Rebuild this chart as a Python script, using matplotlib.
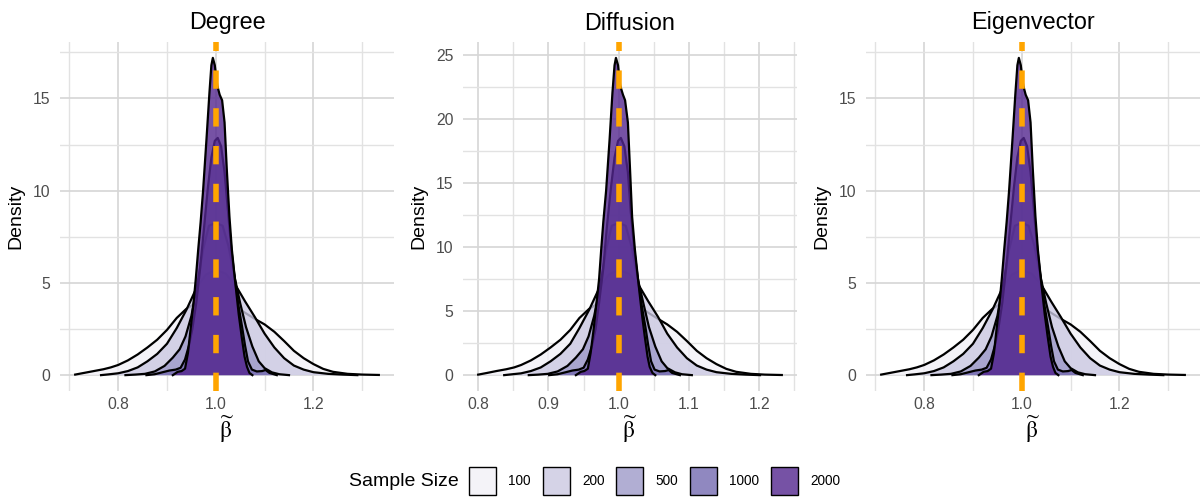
import matplotlib
matplotlib.use("Agg")
import matplotlib.pyplot as plt
from matplotlib.patches import Patch
from matplotlib.colors import to_rgba
from matplotlib.ticker import FixedLocator, FormatStrFormatter

plt.rcParams['font.family'] = ['Liberation Sans', 'DejaVu Sans']
plt.rcParams['mathtext.fontset'] = 'stix'

# ---------------- data ----------------
PANELS = ["Degree", "Diffusion", "Eigenvector"]
SAMPLE_SIZES = ["100", "200", "500", "1000", "2000"]
COLORS = ["#F2F0F7", "#CBC9E2", "#9E9AC8", "#756BB1", "#54278F"]
TRUE_VALUE = 1.0

# Degree
DEG_100_X = [0.712, 0.73, 0.75, 0.77, 0.785, 0.80, 0.82, 0.84, 0.86, 0.88, 0.90, 0.92, 0.94, 0.96, 0.98, 1.00,
             1.02, 1.04, 1.06, 1.08, 1.10, 1.12, 1.14, 1.16, 1.18, 1.20, 1.22, 1.24, 1.27, 1.30, 1.334]
DEG_100_Y = [0.03, 0.12, 0.22, 0.32, 0.42, 0.55, 0.80, 1.12, 1.50, 1.92, 2.45, 3.10, 3.60, 3.92, 4.08, 4.10,
             4.00, 3.75, 3.38, 3.05, 2.75, 2.35, 1.85, 1.32, 0.92, 0.60, 0.34, 0.18, 0.07, 0.03, 0.01]
DEG_200_X = [0.765, 0.78, 0.80, 0.82, 0.84, 0.86, 0.88, 0.90, 0.92, 0.94, 0.96, 0.98, 1.00, 1.02, 1.04, 1.06,
             1.08, 1.10, 1.12, 1.14, 1.16, 1.18, 1.20, 1.23, 1.26, 1.29]
DEG_200_Y = [0.0, 0.04, 0.10, 0.22, 0.42, 0.75, 1.15, 1.70, 2.55, 3.55, 4.70, 5.45, 5.70, 5.50, 4.90, 4.00,
             3.15, 2.25, 1.50, 0.92, 0.52, 0.30, 0.16, 0.07, 0.03, 0.0]
DEG_500_X = [0.815, 0.835, 0.855, 0.875, 0.895, 0.912, 0.926, 0.938, 0.950, 0.962, 0.974, 0.986, 1.000, 1.014,
             1.026, 1.038, 1.050, 1.062, 1.075, 1.088, 1.100, 1.115, 1.130, 1.150]
DEG_500_Y = [0.0, 0.03, 0.07, 0.20, 0.50, 0.95, 1.40, 2.10, 3.20, 4.90, 6.80, 8.10, 8.25, 8.10,
             7.00, 5.40, 3.90, 2.60, 1.55, 0.75, 0.38, 0.15, 0.05, 0.0]
DEG_1000_X = [0.858, 0.875, 0.89, 0.905, 0.918, 0.928, 0.937, 0.945, 0.952, 0.960, 0.968, 0.976, 0.984, 0.991,
              0.998, 1.004, 1.011, 1.018, 1.025, 1.032, 1.040, 1.047, 1.054, 1.060, 1.066, 1.074, 1.084, 1.095,
              1.102, 1.110, 1.125]
DEG_1000_Y = [0.0, 0.05, 0.15, 0.25, 0.30, 0.40, 0.85, 1.60, 2.50, 3.90, 5.80, 8.00, 10.20, 11.80,
              12.70, 12.86, 12.40, 11.00, 8.90, 6.80, 5.00, 3.70, 2.60, 1.60, 0.75, 0.30, 0.20, 0.22,
              0.28, 0.12, 0.0]
DEG_2000_X = [0.912, 0.922, 0.930, 0.937, 0.943, 0.948, 0.954, 0.959, 0.964, 0.969, 0.974, 0.981, 0.987, 0.991,
              0.994, 0.998, 1.003, 1.008, 1.013, 1.018, 1.0225, 1.028, 1.033, 1.040, 1.047, 1.053, 1.059, 1.064,
              1.069, 1.075]
DEG_2000_Y = [0.0, 0.18, 0.22, 0.35, 1.20, 2.40, 3.80, 5.20, 6.80, 8.30, 10.00, 12.80, 15.30, 16.80,
              17.20, 16.80, 15.70, 15.20, 14.90, 13.70, 11.20, 8.60, 6.80, 5.00, 3.30, 2.10, 1.00, 0.45,
              0.12, 0.0]

# Diffusion
DIF_100_X = [0.800, 0.8125, 0.826, 0.840, 0.851, 0.861, 0.875, 0.889, 0.903, 0.917, 0.931, 0.944, 0.958, 0.972,
             0.986, 1.000, 1.014, 1.028, 1.042, 1.056, 1.069, 1.083, 1.097, 1.111, 1.125, 1.139, 1.153, 1.167,
             1.188, 1.208, 1.232]
DIF_100_Y = [0.04, 0.17, 0.32, 0.46, 0.60, 0.79, 1.15, 1.61, 2.16, 2.76, 3.53, 4.46, 5.18, 5.64,
             5.88, 5.90, 5.76, 5.40, 4.87, 4.39, 3.96, 3.38, 2.66, 1.90, 1.32, 0.86, 0.49, 0.26,
             0.10, 0.04, 0.01]
DIF_200_X = [0.837, 0.847, 0.861, 0.875, 0.889, 0.903, 0.917, 0.931, 0.944, 0.958, 0.972, 0.986, 1.000, 1.014,
             1.028, 1.042, 1.056, 1.069, 1.083, 1.097, 1.111, 1.125, 1.139, 1.160, 1.181, 1.201]
DIF_200_Y = [0.0, 0.06, 0.14, 0.32, 0.60, 1.08, 1.66, 2.45, 3.67, 5.11, 6.77, 7.85, 8.21, 7.92,
             7.06, 5.76, 4.54, 3.24, 2.16, 1.32, 0.75, 0.43, 0.23, 0.10, 0.04, 0.0]
DIF_500_X = [0.872, 0.885, 0.899, 0.913, 0.927, 0.939, 0.949, 0.957, 0.965, 0.974, 0.982, 0.990, 1.000, 1.010,
             1.018, 1.026, 1.035, 1.043, 1.052, 1.061, 1.069, 1.080, 1.090, 1.104]
DIF_500_Y = [0.0, 0.04, 0.10, 0.29, 0.72, 1.37, 2.02, 3.02, 4.61, 7.06, 9.79, 11.66, 11.88, 11.66,
             10.08, 7.78, 5.62, 3.74, 2.23, 1.08, 0.55, 0.22, 0.07, 0.0]
DIF_1000_X = [0.901, 0.913, 0.924, 0.934, 0.943, 0.950, 0.956, 0.962, 0.967, 0.972, 0.978, 0.983, 0.989, 0.994,
              0.999, 1.003, 1.008, 1.013, 1.017, 1.022, 1.028, 1.033, 1.038, 1.042, 1.046, 1.051, 1.058, 1.066,
              1.071, 1.076, 1.087]
DIF_1000_Y = [0.0, 0.07, 0.22, 0.36, 0.43, 0.58, 1.22, 2.30, 3.60, 5.62, 8.35, 11.52, 14.69, 16.99,
              18.29, 18.52, 17.86, 15.84, 12.82, 9.79, 7.20, 5.33, 3.74, 2.30, 1.08, 0.43, 0.29, 0.32,
              0.40, 0.17, 0.0]
DIF_2000_X = [0.939, 0.946, 0.951, 0.956, 0.960, 0.964, 0.968, 0.972, 0.975, 0.978, 0.982, 0.987, 0.991, 0.994,
              0.996, 0.999, 1.002, 1.006, 1.009, 1.013, 1.016, 1.019, 1.023, 1.028, 1.033, 1.037, 1.041, 1.044,
              1.048, 1.052]
DIF_2000_Y = [0.0, 0.26, 0.32, 0.50, 1.73, 3.46, 5.47, 7.49, 9.79, 11.95, 14.40, 18.43, 22.03, 24.19,
              24.77, 24.19, 22.61, 21.89, 21.46, 19.73, 16.13, 12.38, 9.79, 7.20, 4.75, 3.02, 1.44, 0.65,
              0.17, 0.0]

# Eigenvector
EIG_100_X = [0.712, 0.73, 0.75, 0.77, 0.785, 0.80, 0.82, 0.84, 0.86, 0.88, 0.90, 0.92, 0.94, 0.96, 0.98, 1.00,
             1.02, 1.04, 1.06, 1.08, 1.10, 1.12, 1.14, 1.16, 1.18, 1.20, 1.22, 1.24, 1.27, 1.30, 1.334]
EIG_100_Y = [0.03, 0.12, 0.22, 0.32, 0.42, 0.55, 0.80, 1.12, 1.50, 1.92, 2.45, 3.10, 3.60, 3.92, 4.08, 4.10,
             4.00, 3.75, 3.38, 3.05, 2.75, 2.35, 1.85, 1.32, 0.92, 0.60, 0.34, 0.18, 0.07, 0.03, 0.01]
EIG_200_X = [0.765, 0.78, 0.80, 0.82, 0.84, 0.86, 0.88, 0.90, 0.92, 0.94, 0.96, 0.98, 1.00, 1.02, 1.04, 1.06,
             1.08, 1.10, 1.12, 1.14, 1.16, 1.18, 1.20, 1.23, 1.26, 1.29]
EIG_200_Y = [0.0, 0.04, 0.10, 0.22, 0.42, 0.75, 1.15, 1.70, 2.55, 3.55, 4.70, 5.45, 5.70, 5.50, 4.90, 4.00,
             3.15, 2.25, 1.50, 0.92, 0.52, 0.30, 0.16, 0.07, 0.03, 0.0]
EIG_500_X = [0.815, 0.835, 0.855, 0.875, 0.895, 0.912, 0.926, 0.938, 0.950, 0.962, 0.974, 0.986, 1.000, 1.014,
             1.026, 1.038, 1.050, 1.062, 1.075, 1.088, 1.100, 1.115, 1.130, 1.150]
EIG_500_Y = [0.0, 0.03, 0.07, 0.20, 0.50, 0.95, 1.40, 2.10, 3.20, 4.90, 6.80, 8.10, 8.25, 8.10,
             7.00, 5.40, 3.90, 2.60, 1.55, 0.75, 0.38, 0.15, 0.05, 0.0]
EIG_1000_X = [0.858, 0.875, 0.89, 0.905, 0.918, 0.928, 0.937, 0.945, 0.952, 0.960, 0.968, 0.976, 0.984, 0.991,
              0.998, 1.004, 1.011, 1.018, 1.025, 1.032, 1.040, 1.047, 1.054, 1.060, 1.066, 1.074, 1.084, 1.095,
              1.102, 1.110, 1.125]
EIG_1000_Y = [0.0, 0.05, 0.15, 0.25, 0.30, 0.40, 0.85, 1.60, 2.50, 3.90, 5.80, 8.00, 10.20, 11.80,
              12.70, 12.86, 12.40, 11.00, 8.90, 6.80, 5.00, 3.70, 2.60, 1.60, 0.75, 0.30, 0.20, 0.22,
              0.28, 0.12, 0.0]
EIG_2000_X = [0.912, 0.922, 0.930, 0.937, 0.943, 0.948, 0.954, 0.959, 0.964, 0.969, 0.974, 0.981, 0.987, 0.991,
              0.994, 0.998, 1.003, 1.008, 1.013, 1.018, 1.0225, 1.028, 1.033, 1.040, 1.047, 1.053, 1.059, 1.064,
              1.069, 1.075]
EIG_2000_Y = [0.0, 0.18, 0.22, 0.35, 1.20, 2.40, 3.80, 5.20, 6.80, 8.30, 10.00, 12.80, 15.30, 16.80,
              17.20, 16.80, 15.70, 15.20, 14.90, 13.70, 11.20, 8.60, 6.80, 5.00, 3.30, 2.10, 1.00, 0.45,
              0.12, 0.0]

CURVES = {
    "Degree": [(DEG_100_X, DEG_100_Y), (DEG_200_X, DEG_200_Y), (DEG_500_X, DEG_500_Y),
               (DEG_1000_X, DEG_1000_Y), (DEG_2000_X, DEG_2000_Y)],
    "Diffusion": [(DIF_100_X, DIF_100_Y), (DIF_200_X, DIF_200_Y), (DIF_500_X, DIF_500_Y),
                  (DIF_1000_X, DIF_1000_Y), (DIF_2000_X, DIF_2000_Y)],
    "Eigenvector": [(EIG_100_X, EIG_100_Y), (EIG_200_X, EIG_200_Y), (EIG_500_X, EIG_500_Y),
                    (EIG_1000_X, EIG_1000_Y), (EIG_2000_X, EIG_2000_Y)],
}

X_MAJOR = {"Degree": [0.8, 1.0, 1.2], "Diffusion": [0.8, 0.9, 1.0, 1.1, 1.2], "Eigenvector": [0.8, 1.0, 1.2]}
X_MINOR = {"Degree": [0.7, 0.9, 1.1, 1.3], "Diffusion": [0.85, 0.95, 1.05, 1.15, 1.25],
           "Eigenvector": [0.7, 0.9, 1.1, 1.3]}
Y_MAJOR = {"Degree": [0, 5, 10, 15], "Diffusion": [0, 5, 10, 15, 20, 25], "Eigenvector": [0, 5, 10, 15]}
Y_MINOR = {"Degree": [2.5, 7.5, 12.5, 17.5], "Diffusion": [2.5, 7.5, 12.5, 17.5, 22.5],
           "Eigenvector": [2.5, 7.5, 12.5, 17.5]}

# ---------------- figure ----------------
W, H = 1201, 498
fig = plt.figure(figsize=(W / 100, H / 100), dpi=100)
fig.patch.set_facecolor("white")

panel_left = [60, 463, 866]
panel_w = 334
panel_top, panel_bottom = 42, 391

ALPHA = 0.8
for i, name in enumerate(PANELS):
    ax = fig.add_axes([panel_left[i] / W, (H - panel_bottom) / H, panel_w / W, (panel_bottom - panel_top) / H])
    ax.set_axisbelow(True)
    for (xs, ys), col in zip(CURVES[name], COLORS):
        ax.fill_between(xs, ys, 0, facecolor=col, alpha=ALPHA, edgecolor="none", zorder=2)
        ax.plot(xs, ys, color="black", lw=1.6, zorder=2, solid_joinstyle="round")
    ax.margins(x=0.05, y=0.05)
    ax.axvline(TRUE_VALUE, color="#FFA500", lw=4.0, dashes=(3.3, 3.5), zorder=5)

    ax.xaxis.set_major_locator(FixedLocator(X_MAJOR[name]))
    ax.xaxis.set_minor_locator(FixedLocator(X_MINOR[name]))
    ax.yaxis.set_major_locator(FixedLocator(Y_MAJOR[name]))
    ax.yaxis.set_minor_locator(FixedLocator(Y_MINOR[name]))
    ax.xaxis.set_major_formatter(FormatStrFormatter("%.1f"))
    ax.yaxis.set_major_formatter(FormatStrFormatter("%d"))
    ax.grid(which="major", color="#d6d6d6", lw=1.2)
    ax.grid(which="minor", color="#e2e2e2", lw=1.0)
    ax.tick_params(which="both", length=0)
    ax.tick_params(axis="y", pad=7, labelsize=11.3, labelcolor="#4d4d4d")
    ax.tick_params(axis="x", pad=4.5, labelsize=11.3, labelcolor="#4d4d4d")
    for s in ax.spines.values():
        s.set_visible(False)
    ax.set_title(name, fontsize=16.8, pad=9)
    ax.set_ylabel("Density", fontsize=14, labelpad=6)
    ax.set_xlabel(r"$\widetilde{\mathrm{\beta}}$", fontsize=17, labelpad=1)

# legend
handles = [Patch(facecolor=to_rgba(c, ALPHA), edgecolor="black", linewidth=1.0) for c in COLORS]
fig.text(459 / W, 1 - 481 / H, "Sample Size", ha="right", va="center", fontsize=14)
fig.legend(handles, SAMPLE_SIZES, loc="center left", bbox_to_anchor=(469 / W, 1 - 481 / H),
           ncol=5, frameon=False, fontsize=9.8, handlelength=2.0, handleheight=2.7,
           handletextpad=0.9, columnspacing=0.85, borderpad=0, borderaxespad=0)

fig.savefig("out.png", dpi=100, facecolor="white")
